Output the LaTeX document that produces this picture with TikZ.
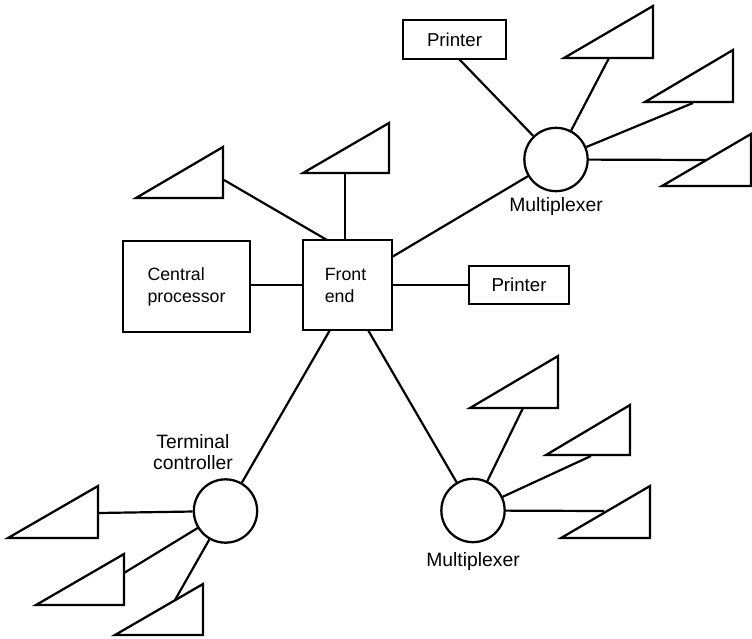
\documentclass[tikz,border=0pt]{standalone}
\usepackage{fontspec}
\setmainfont{Liberation Sans}
\usetikzlibrary{calc}
\tikzset{
  ln/.style={line width=1.65pt,black},
  boxn/.style={draw,line width=1.8pt,inner sep=0pt,align=left,font=\fontsize{13.3}{16.5}\selectfont},
  prn/.style={boxn,font=\fontsize{14}{16.5}\selectfont},
  circ/.style={draw,circle,line width=1.7pt,inner sep=0pt,minimum size=47.5pt},
  lab/.style={inner sep=0pt,align=center,font=\fontsize{14.5}{15.75}\selectfont},
  tri/.style={line width=1.7pt,line join=miter,draw=black}
}
\newcommand{\terminal}[4]{% name, left x, top y, right x, bottom y given as #2 #3 #4
  \coordinate (#1) at (#4);
  \draw[tri] (#2) -- (#3) -- (#4) -- cycle;
}
\begin{document}
\begin{tikzpicture}[x=0.75pt,y=-0.75pt]
\useasboundingbox (0,0) rectangle (752,638);
\node[prn,minimum width=77.25pt,minimum height=29.25pt] (p1) at (454.5,39.5) {Printer};
\node[boxn,minimum width=95.25pt,minimum height=68.25pt] (cp) at (186.5,286.5) {Central\\processor};
\node[boxn,minimum width=66.75pt,minimum height=67.5pt] (fe) at (347.5,285) {Front\kern3pt\\end};
\node[prn,minimum width=75pt,minimum height=28.5pt] (p2) at (519,285) {Printer};
\node[circ] (m1) at (556,159.5) {};
\node[circ] (tc) at (225.5,511) {};
\node[circ] (m2) at (473,510.5) {};
\node[lab] (lm1) at (556,207) {Multiplexer};
\node[lab] (ltc) at (193,452.5) {Terminal\\controller};
\node[lab] (lm2) at (473,561) {Multiplexer};
\terminal{t1}{136,198}{223,147}{223,198}
\terminal{t2}{303,173}{389,123}{389,173}
\terminal{t3}{564,58}{653,6}{653,58}
\terminal{t4}{645,102}{733,50}{733,102}
\terminal{t5}{662,186}{751,134}{751,186}
\terminal{t6}{470,408}{558,356}{558,408}
\terminal{t7}{546,455}{630,405}{630,455}
\terminal{t8}{561,538}{650,486}{650,538}
\terminal{t9}{8,538}{98,486}{98,538}
\terminal{t10}{36,605}{124,554}{124,605}
\terminal{t11}{115,635}{203,584}{203,635}
\coordinate (a1) at (224,180);
\coordinate (a2) at (345,173);
\coordinate (a3) at (459,59);
\coordinate (a4) at (609,58);
\coordinate (a5) at (693,103);
\coordinate (a6) at (706,160);
\coordinate (a7) at (523,408);
\coordinate (a8) at (591,456);
\coordinate (a9) at (604,511);
\coordinate (a10) at (98,513);
\coordinate (a11) at (124,573);
\coordinate (a12) at (175,600);
\coordinate (f1) at (327,240);
\coordinate (f2) at (345,240);
\coordinate (f3) at (392,257);
\coordinate (f4) at (330,330);
\coordinate (f5) at (368,330);
\draw[ln] (cp.east |- fe.west) -- (fe.west);
\draw[ln] (fe.east) -- (p2.west);
\draw[ln] (a2) -- (f2);
\draw[ln] (a1) -- (f1);
\draw[ln] (f3) -- (m1);
\draw[ln] (f4) -- (tc);
\draw[ln] (f5) -- (m2);
\draw[ln] (a3) -- (m1);
\draw[ln] (a4) -- (m1);
\draw[ln] (a5) -- (m1);
\draw[ln] (a6) -- (m1);
\draw[ln] (a7) -- (m2);
\draw[ln] (a8) -- (m2);
\draw[ln] (a9) -- (m2);
\draw[ln] (a10) -- (tc);
\draw[ln] (a11) -- (tc);
\draw[ln] (a12) -- (tc);
\end{tikzpicture}
\end{document}
